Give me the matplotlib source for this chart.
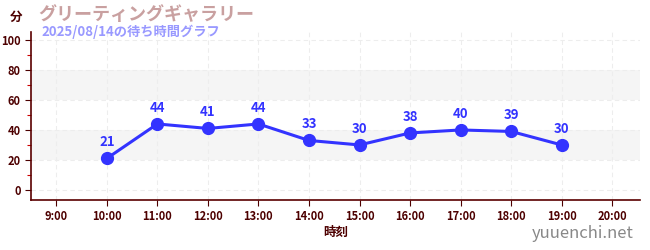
import matplotlib
matplotlib.use("Agg")
import matplotlib.pyplot as plt
from matplotlib.ticker import MultipleLocator

plt.rcParams['font.family'] = ['Noto Sans CJK JP', 'DejaVu Sans']

hours = [10, 11, 12, 13, 14, 15, 16, 17, 18, 19]
waits = [21, 44, 41, 44, 33, 30, 38, 40, 39, 30]
xticks = list(range(9, 21))
xlabels = [f"{h}:00" for h in xticks]
yticks = [0, 20, 40, 60, 80, 100]
title = "グリーティングギャラリー"
subtitle = "2025/08/14の待ち時間グラフ"

fig = plt.figure(figsize=(6.5, 2.5), dpi=100)
ax = fig.add_axes([31/650, 50/250, (640-31)/650, (200-32)/250])
ax.set_xlim(8.5, 20.55)
ax.set_ylim(-6.7, 105.3)

for lo, hi in [(20, 40), (60, 80)]:
    ax.axhspan(lo, hi, color='#f5f5f5', zorder=0, lw=0)

ax.grid(True, which='major', color='#ededed', linestyle=(0, (4, 3)), lw=0.8, zorder=0.5)

line_c = '#3333ff'
ax.plot(hours, waits, color=line_c, lw=2.2, marker='o', ms=8.5, zorder=3)
for x, y in zip(hours, waits):
    ax.annotate(str(y), (x, y), xytext=(0, 6.5), textcoords='offset points',
                ha='center', va='bottom', color=line_c, fontsize=9.5, fontweight='bold')

dark = '#4d0000'
ax.set_xticks(xticks)
ax.set_xticklabels(xlabels)
ax.set_yticks(yticks)
ax.yaxis.set_minor_locator(MultipleLocator(10))
ax.tick_params(axis='both', which='major', colors=dark, labelsize=8, length=4, width=0.8)
ax.tick_params(axis='y', which='minor', colors='#cc0000', length=3, width=0.8)
for lbl in ax.get_xticklabels() + ax.get_yticklabels():
    lbl.set_color(dark)
    lbl.set_fontweight('bold')

for s in ['top', 'right']:
    ax.spines[s].set_visible(False)
for s in ['left', 'bottom']:
    ax.spines[s].set_color('#5a0000')
    ax.spines[s].set_linewidth(1.2)

ax.set_xlabel("時刻", color=dark, fontsize=9, fontweight='bold', labelpad=2)

fig.text(10/650, 1 - 17/250, "分", color=dark, fontsize=9, fontweight='bold', va='center')
fig.text(38/650, 1 - 14/250, title, color='#c9a0a0', fontsize=13, fontweight='bold', va='center')
fig.text(41/650, 1 - 32/250, subtitle, color='#9999ff', fontsize=9.5, fontweight='bold', va='center')
fig.text(634/650, 1 - 233/250, "yuuenchi.net", color='#888888', fontsize=12, ha='right', va='center')

fig.savefig("out.png", dpi=100)
